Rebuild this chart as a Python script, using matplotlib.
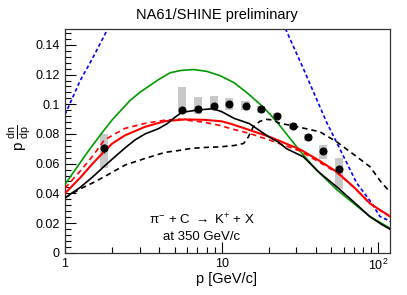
import matplotlib
matplotlib.use("Agg")
import matplotlib.pyplot as plt
import numpy as np
from matplotlib.ticker import MultipleLocator, LogLocator, FixedLocator, FixedFormatter, NullFormatter

plt.rcParams['font.family'] = ['Liberation Sans', 'DejaVu Sans']
plt.rcParams['mathtext.fontset'] = 'custom'
plt.rcParams['mathtext.rm'] = 'Liberation Sans'
plt.rcParams['mathtext.it'] = 'Liberation Sans'
plt.rcParams['mathtext.bf'] = 'Liberation Sans:bold'

# data points (NA61/SHINE preliminary)
p_data = [1.77, 5.55, 7.1, 8.93, 11.1, 14.2, 17.9, 22.4, 28.4, 35.7, 44.5, 56.3]
y_data = [0.0703, 0.0960, 0.0965, 0.0989, 0.0999, 0.0989, 0.0965, 0.0918, 0.0855, 0.0779, 0.0684, 0.0563]
stat_err = [0.003, 0.001, 0.001, 0.001, 0.001, 0.001, 0.001, 0.001, 0.001, 0.001, 0.001, 0.001]
sys_top = [0.0799, 0.1113, 0.1050, 0.1055, 0.1039, 0.1021, 0.0987, 0.0938, 0.0875, 0.0803, 0.0724, 0.0635]
sys_bot = [0.0568, 0.0938, 0.0933, 0.0972, 0.0960, 0.0960, 0.0938, 0.0900, 0.0832, 0.0754, 0.0631, 0.0427]

# model curves
p_green = [1, 1.2, 1.41, 1.7, 2.0, 2.6, 3.0, 3.94, 4.68, 5.5, 6.59, 8, 9.75, 12, 14.4, 17.6, 20.3, 23.6, 31.6, 40, 54.2,
           70, 88.4, 120]
y_green = [0.046, 0.058, 0.0685, 0.080, 0.0895, 0.1025, 0.108, 0.1165, 0.1212, 0.1228, 0.1234, 0.1222, 0.1193, 0.1145,
           0.108, 0.100, 0.0934, 0.0854, 0.0685, 0.056, 0.0425, 0.033, 0.0244, 0.0162]

p_red = [1, 1.25, 1.5, 1.77, 2.0, 2.41, 3.24, 4.35, 5.84, 7.8, 10, 11.3, 15.1, 20.3, 31.6, 42, 54.2, 70, 88.4, 105, 120]
y_red = [0.040, 0.0505, 0.060, 0.068, 0.0735, 0.079, 0.0848, 0.0886, 0.0898, 0.0895, 0.0885, 0.087, 0.0826, 0.078, 0.0696,
         0.062, 0.0545, 0.044, 0.0332, 0.028, 0.0242]

p_red_d = [1, 1.25, 1.5, 1.77, 2.0, 2.41, 3.24, 4.35, 5.3, 6.28, 7.8, 10, 11.3, 15.1, 20.3, 31.6, 42, 54.2, 70, 88.4, 120]
y_red_d = [0.0435, 0.055, 0.065, 0.0755, 0.079, 0.0837, 0.0871, 0.0893, 0.090, 0.089, 0.0878, 0.0855, 0.0837, 0.0803,
           0.0758, 0.0685, 0.061, 0.054, 0.044, 0.033, 0.024]

p_black = [1, 1.25, 1.5, 1.77, 2.0, 2.41, 2.8, 3.24, 3.94, 4.5, 5.0, 5.55, 7.1, 8.8, 10, 12, 15, 20, 23, 26, 33.2, 42,
           54.2, 70, 88.4, 105, 120]
y_black = [0.037, 0.044, 0.051, 0.058, 0.063, 0.0705, 0.076, 0.080, 0.0835, 0.087, 0.091, 0.0945, 0.0962, 0.097, 0.095,
           0.0905, 0.087, 0.078, 0.0745, 0.070, 0.0646, 0.054, 0.0444, 0.034, 0.0242, 0.019, 0.0155]

p_black_d = [1, 1.25, 1.5, 1.77, 2.41, 3.24, 4.35, 5.28, 6.43, 7.8, 9.75, 12, 13.8, 14.8, 15.9, 17.5, 19.3, 21, 23.6,
             27.3, 33, 42.4, 54.2, 70, 88.4, 105, 120]
y_black_d = [0.037, 0.043, 0.047, 0.051, 0.059, 0.0635, 0.0676, 0.0688, 0.0703, 0.0709, 0.0713, 0.0722, 0.0736, 0.078,
             0.0848, 0.0885, 0.0898, 0.0895, 0.0871, 0.0859, 0.084, 0.0814, 0.0747, 0.066, 0.0579, 0.047, 0.0405]

p_blue = [1, 1.25, 1.5, 1.9, 2.2, 3, 5, 10, 15, 20, 25, 33.2, 46.8, 54.2, 72.6, 88.4, 102.4, 120]
y_blue = [0.093, 0.116, 0.131, 0.152, 0.166, 0.19, 0.23, 0.26, 0.22, 0.18, 0.153, 0.124, 0.0877, 0.0742, 0.047, 0.035,
          0.0244, 0.021]

fig = plt.figure(figsize=(4.07, 2.95), dpi=100)
ax = fig.add_axes([65 / 407, 1 - 252.7 / 295, 325 / 407, 223.4 / 295])

# systematic boxes
for x, lo, hi in zip(p_data, sys_bot, sys_top):
    ax.fill_between([x * 10 ** -0.026, x * 10 ** 0.026], lo, hi, color='#c8c8c8', lw=0, zorder=1)

lw = 1.2
ax.plot(p_blue, y_blue, color='#0000ff', lw=lw, dashes=(2.2, 1.6), zorder=2)
ax.plot(p_green, y_green, color='#009900', lw=lw, zorder=3)
ax.plot(p_black_d, y_black_d, color='black', lw=lw, dashes=(3.2, 2.4), zorder=3)
ax.plot(p_red_d, y_red_d, color='#ff0000', lw=lw, dashes=(3.2, 2.4), zorder=3)
ax.plot(p_red, y_red, color='#ff0000', lw=1.5, zorder=3)
ax.plot(p_black, y_black, color='black', lw=lw, zorder=3)

ax.errorbar(p_data, y_data, yerr=stat_err, fmt='o', color='black', ms=4.8, elinewidth=1, capsize=0, zorder=5)

ax.set_xscale('log')
ax.set_xlim(1, 118.6)
ax.set_ylim(0, 0.1505)

ax.xaxis.set_major_locator(FixedLocator([1, 10, 100]))
ax.xaxis.set_major_formatter(FixedFormatter(['1', '10', '$10^{2}$']))
ax.xaxis.set_minor_locator(LogLocator(base=10, subs=np.arange(2, 10)))
ax.xaxis.set_minor_formatter(NullFormatter())
ax.yaxis.set_major_locator(MultipleLocator(0.02))
ax.yaxis.set_minor_locator(MultipleLocator(0.004))
ax.yaxis.set_major_formatter(plt.FuncFormatter(lambda v, pos: '0' if abs(v) < 1e-9 else ('%g' % round(v, 3))))

ax.tick_params(which='major', direction='in', length=8, width=0.8, labelsize=9, pad=4)
ax.tick_params(which='minor', direction='in', length=4, width=0.8)
ax.tick_params(axis='x', which='major', pad=4)
for s in ax.spines.values():
    s.set_linewidth(0.9)
    s.set_color('#333333')

ax.text(0.42, 0.146, r'$\pi^{-}$ + C $\rightarrow$ K$^{+}$ + X', transform=ax.transAxes,
        ha='center', va='center', fontsize=9.5)
ax.text(0.42, 0.072, 'at 350 GeV/c', transform=ax.transAxes, ha='center', va='center', fontsize=9.5)

fig.text(217 / 407, 1 - 15 / 295, 'NA61/SHINE preliminary', ha='center', va='center', fontsize=10.5)
fig.text(227 / 407, 1 - 272 / 295, 'p [GeV/c]', ha='center', va='top', fontsize=10.5)
fig.text(20 / 407, 1 - 138 / 295, r'p $\frac{\mathrm{dn}}{\mathrm{dp}}$', ha='center', va='center', fontsize=11,
         rotation=90)

fig.savefig('out.png', dpi=100)
